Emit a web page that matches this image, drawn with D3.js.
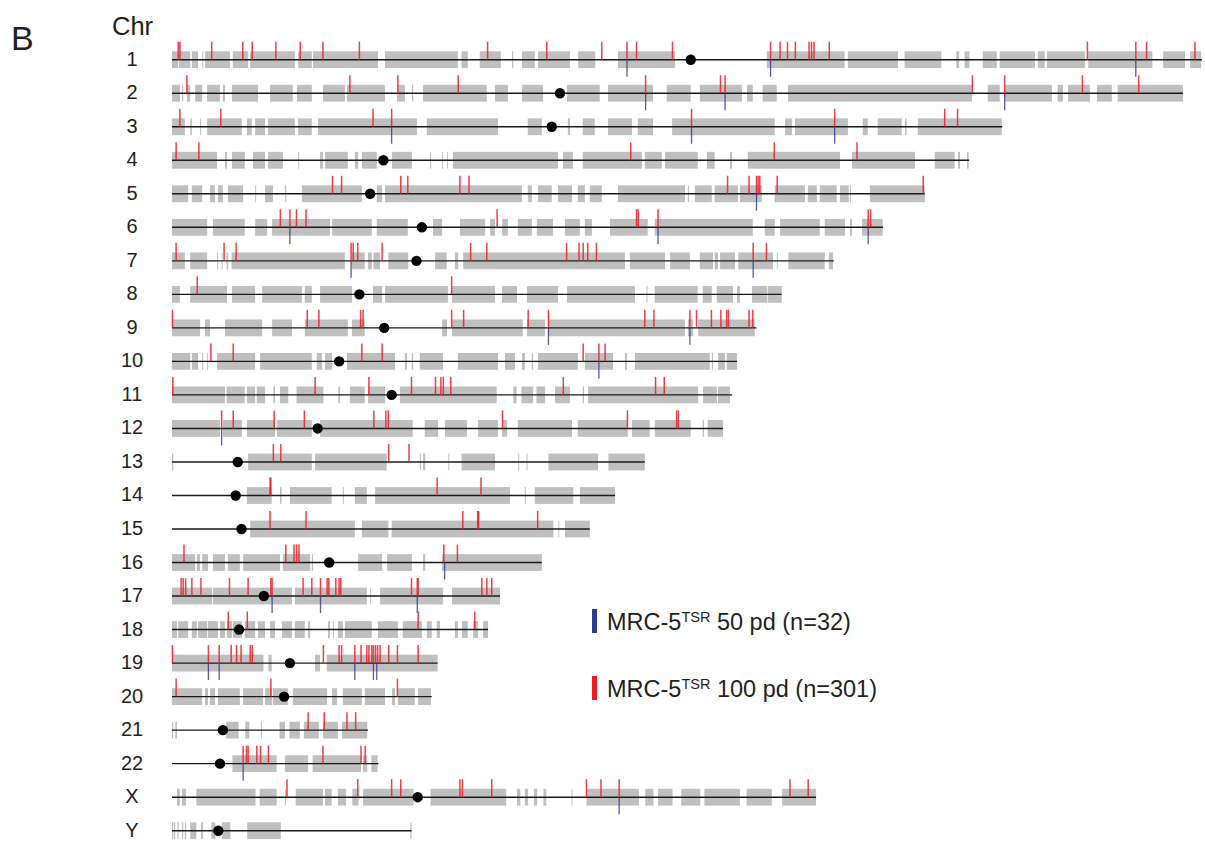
<!DOCTYPE html>
<html>
<head>
<meta charset="utf-8">
<script src="https://cdn.jsdelivr.net/npm/d3@7"></script>
<style>
body { margin: 0; background: #fff; }
svg { display: block; }
text { font-family: "Liberation Sans", Arial, Helvetica, sans-serif; fill: #231f20; }
</style>
</head>
<body>
<div id="chart"></div>
<script>
// chromosome names, lengths (Mb) and centromere positions (Mb)
var chromosomes = ["1","2","3","4","5","6","7","8","9","10","11","12","13","14","15","16","17","18","19","20","21","22","X","Y"];
var lengths = [249.0,244.4,200.7,192.7,182.0,171.9,160.0,147.4,141.3,136.6,135.4,133.2,114.3,107.1,101.0,89.4,79.3,76.4,64.2,62.8,47.4,49.9,155.7,57.9];
var centromeres = [125.4,93.8,91.8,51.1,47.9,60.4,59.1,45.3,51.3,40.4,53.1,35.2,15.9,15.4,16.8,38.0,22.2,16.2,28.5,27.1,12.3,11.6,59.4,11.2];

// gene dense stretches (grey), start/end in Mb
var geneBlocks = [
  [[0,1.5],[1.7,4.4],[4.8,6.3],[7.3,7.5],[8,14.0],[14.7,18.4],[18.9,29.7],[30.5,33.8],[34.1,49.8],[51.5,69.1],[70,71.5],[74.4,79.5],[82.2,82.5],[84.6,87.7],[88.5,96.2],[98.2,102.3],[107.8,121.6],[143.8,162.6],[163.4,175.5],[177.1,186],[189.6,190.3],[191.6,192.8],[196,199.4],[200.1,208.6],[209.3,211],[211.5,220.7],[221.5,237],[239.6,244.9],[246.1,248.8]],
  [[0,1.9],[2.4,2.7],[3.6,4.4],[5.6,7.3],[8.5,11.6],[12.3,12.8],[14.5,20.8],[23.7,29.2],[30.2,33.8],[36.5,41.8],[42.3,51.5],[54.4,56.3],[58,58.3],[60.7,76.1],[78.1,81.2],[84.6,89.7],[95.5,103.4],[105.4,116.3],[119.6,125.4],[127.6,137.8],[139,140.4],[142.8,146.2],[148.9,193.4],[197.2,200.1],[201.3,212.7],[214.1,215.4],[216.6,221.9],[223.6,227.2],[228.6,244.4]],
  [[0,3.1],[4.4,4.8],[6.8,7.0],[8.5,16.9],[18.1,19.3],[20.1,22.5],[23.2,29.7],[30.5,33.8],[35.3,59.2],[61.6,78.8],[86,89.4],[95.7,96.2],[99.3,102.2],[105.4,111.2],[112.6,116.3],[120.9,145.7],[148.2,149.9],[150.6,163.4],[167,168.2],[170.6,176.4],[177.2,177.6],[180.3,200.6]],
  [[0,10.9],[12.8,13.3],[14.5,17.6],[19.6,22.5],[23.2,26.8],[30.5,30.7],[35.8,36.5],[37,42.5],[44.2,45],[45.9,49.5],[53.2,58],[62.4,62.6],[65.3,65.5],[66.5,66.7],[67.9,93.3],[94.5,96.9],[99.3,113.6],[114.3,118.4],[119.2,127.1],[129.3,131.2],[134.9,135.4],[139.2,161.5],[164.4,179.6],[184.4,189.2],[190,190.5],[192.2,192.6]],
  [[0,3.9],[4.8,7.3],[9.2,10.4],[11.1,12.3],[13.5,17.2],[20.1,20.3],[22.5,24.4],[27.3,27.6],[31.4,45.9],[49.5,50.8],[51.5,84.6],[86,87],[88.5,91.8],[93.3,96.7],[98.1,99.8],[101,103.9],[107.8,124],[124.7,125],[126.4,130.5],[131.2,136.8],[137.3,142.6],[145.7,153],[153.7,155.9],[156.6,160.7],[161.5,163.6],[163.9,164.1],[168.7,182]],
  [[0,8.5],[9.9,17.6],[20.1,23],[24.2,38.2],[38.7,48.3],[49.5,57],[63.1,65.3],[69.6,75.7],[76.9,78.1],[79.8,81.2],[83.6,87],[88.2,92.1],[95,98.6],[99.8,101.5],[105.9,115],[116.7,140.4],[143.3,145.7],[147,156.6],[157.8,162.7],[163.9,164.4],[166.8,171.8]],
  [[0,3.1],[4.4,8.5],[10.9,11.1],[12,12.1],[13.2,13.6],[14.4,41.8],[43.4,46.6],[47.4,48.3],[48.7,50.3],[52.3,57.1],[63.6,66.4],[68.4,69.2],[70.4,109.5],[110.7,119.2],[120.4,125.2],[127.6,130.8],[131.2,132],[132.5,136.1],[136.9,145.3],[146.2,146.4],[149,157.8],[158.8,159.8]],
  [[0,1.9],[4.4,13.3],[14.5,20.1],[21.8,31.4],[32.1,33.8],[35.8,43.5],[48.6,50.8],[51.5,66.7],[67.7,78.1],[79.8,83.4],[85.8,93.3],[95.5,111.9],[114.7,114.9],[116.7,127.1],[128.3,130.5],[131.7,135.6],[136.6,137.3],[140.2,143.8],[144,147.4]],
  [[0,6.8],[8,9.2],[12.8,21.8],[24.2,29],[32.1,42.5],[43.5,46.6],[65.3,66.5],[67.7,84.8],[85.8,90.2],[90.9,124],[124.7,126],[127.2,140.9]],
  [[0,4.4],[4.8,6.3],[7.3,7.5],[8.5,8.7],[10.9,20.1],[21.3,33.8],[35,36.3],[37,38.7],[42.3,53.9],[56.3,56.8],[58,58.3],[59.9,65.5],[69.1,78.8],[80.5,82.9],[84.6,85.3],[87,87.3],[88.5,98.1],[99.8,106.6],[109.5,110],[111.9,130],[130.5,130.8],[132,133.7],[134.1,136.6]],
  [[0,12.8],[13.2,17.6],[18.1,20.1],[20.5,22.5],[24.5,24.9],[26.1,28.1],[30.1,36.6],[40.2,40.6],[43,46.6],[47.4,51.5],[55.1,78.5],[82.5,83.3],[84.5,87.3],[88.1,90.2],[92.6,96.2],[99.3,99.6],[100.6,127.2],[128.4,131.7],[132,134.9]],
  [[0,11.6],[12.3,16.9],[18.1,24.9],[25.4,33.8],[35.8,58.2],[61.1,64.3],[66,71.3],[74,78.8],[79.8,81],[83.6,96.7],[98.1,110.2],[111.2,115.5],[116.7,125.4],[128.3,128.6],[129.5,133.2]],
  [[0,0.3],[18.4,33.8],[34.6,51.9],[59.9,60.2],[60.7,61.2],[66.8,67],[70,78.1],[83.7,83.9],[85.7,85.9],[91,103],[105.5,114.3]],
  [[18.1,24.1],[26.1,26.5],[28.5,38.6],[41.3,41.5],[44.2,47.1],[49.1,81.7],[85.3,85.4],[87.7,97],[98.6,107.1]],
  [[18.9,44.2],[45.9,52.3],[53.1,92.2],[93.4,93.5],[95,101]],
  [[0,5.6],[6,6.8],[7.3,8.7],[9.9,12.8],[13.5,16.4],[17.2,26.1],[26.8,33.4],[33.8,34.1],[45,50.8],[52,58],[60.7,61.2],[65.3,89.4]],
  [[0,9.7],[9.9,29],[29.7,47.1],[47.9,48],[50.3,65.5],[67.7,79.3]],
  [[0,1.2],[1.5,3.9],[4.8,6],[6.3,8.5],[8.7,11.1],[11.6,12.8],[13.3,14.5],[14.7,16.9],[17.6,20.1],[20.8,22.5],[23.7,24.9],[26.6,29],[29.7,32.1],[32.9,33.4],[37.7,38.2],[38.9,39],[40.1,41.3],[41.8,48.3],[49.8,54.6],[55.8,60.4],[61.6,62.8],[64,64.8],[68.4,69.1],[70.1,71.5],[72.8,74],[75.2,76.4]],
  [[0,22.1],[23.3,24.1],[34.6,35.8],[37.4,64.2]],
  [[0,7.3],[8,8.7],[9.2,10.4],[11.1,16.4],[17.2,22],[22.5,24.2],[24.4,28],[29.2,37.5],[38.7,39.9],[41.3,45.9],[46.6,51.5],[53.2,53.9],[54.6,58.7],[59.5,62.6]],
  [[0,0.3],[0.8,1.2],[13.1,16.1],[17.7,18.7],[21.5,21.6],[26,27.3],[28.4,30.9],[31.9,35.5],[36.5,40.1],[41.1,47.2]],
  [[14.6,25.3],[27.3,32.9],[34,45.7],[46.2,47.2],[48.2,49.7]],
  [[1.2,1.9],[2.4,3.4],[5.9,20.2],[21.2,25.3],[27.3,27.5],[29.9,36.5],[37,38.6],[40.1,42.1],[43.6,45.1],[46.2,58.4],[62.5,80.8],[83.4,84.2],[85.3,86.1],[87.5,88.3],[89.8,90.5],[96.6,96.7],[100.2,112.9],[114.4,116.4],[117.5,121],[123.1,127.7],[128.7,137.3],[138.9,145],[147.5,155.7]],
  [[0,0.3],[0.5,0.8],[1.3,1.6],[2.4,2.7],[3.1,3.4],[4.4,5.9],[7,7.5],[9.5,10.5],[12.1,14.1],[18.2,26.3],[57.6,57.9]]
];

// MRC-5 TSR 100 pd sites (red, above the line), Mb
var pd100 = [
  [1.5,1.9,9.6,17.1,19.4,25.1,31.0,36.5,45.3,76.3,90.6,103.9,110.0,112.3,121.0,144.7,147.0,148.8,150.7,154.0,154.6,155.2,158.9,221.3,233.0,235.6,247.3],
  [3.6,43.0,54.6,69.2,114.5,132.6,133.7,193.5,201.3,220.1,233.7],
  [1.9,11.8,48.6,53.1,125.6,160.2,186.8,189.9],
  [1.0,6.5,110.9,145.6,165.6],
  [38.8,41.0,55.3,57.0,69.6,71.8,134.3,139.5,141.3,141.7,142.1,146.3,181.6],
  [26.2,28.5,30.1,32.4,78.6,112.3,112.7,117.5,168.3,168.9],
  [1.0,12.6,15.5,43.3,43.8,44.9,50.8,72.2,76.1,95.4,98.4,99.4,100.5,102.6,140.5,143.7],
  [6.1,67.6],
  [0.1,32.7,35.5,45.6,46.2,67.6,70.5,86.1,91.0,114.3,116.5,125.2,126.8,130.4,132.7,134.1,134.5,139.5,140.4],
  [9.4,14.8,45.9,50.8,99.4,103.2,104.7],
  [0.2,34.6,47.6,57.9,63.7,65.0,65.6,67.4,94.6,116.9,119.0],
  [12.0,14.8,24.7,32.0,48.8,51.7,52.3,79.9,110.1,122.0,122.4],
  [24.5,26.3,52.4,57.3],
  [23.7,23.9,64.1,74.7],
  [23.7,32.4,70.3,73.9,74.1,88.4],
  [2.9,27.5,29.5,30.1,30.7,65.7,69.0],
  [2.2,2.7,3.3,4.8,7.0,13.9,18.4,23.9,24.2,31.7,33.8,35.9,37.5,37.9,39.6,40.4,40.8,57.9,59.3,59.5,74.9,76.1,77.3],
  [13.6,18.2,59.5,73.2],
  [0.1,8.8,11.4,14.3,15.6,16.7,18.9,19.4,36.6,40.4,41.0,44.2,45.7,47.1,47.6,48.3,48.7,49.2,49.7,50.3,52.4,54.5,59.5],
  [1.0,23.9,54.5],
  [32.9,36.8,42.3,44.4],
  [17.2,18.0,18.4,20.5,21.4,23.3,36.5,45.7,46.7],
  [27.8,44.9,53.1,55.3,69.6,70.2,77.3,100.2,103.7,108.1,149.4,153.8],
  []
];

// MRC-5 TSR 50 pd sites (blue, below the line), Mb
var pd50 = [
  [110.0,144.7,233.0],
  [114.5,133.7,201.3],
  [53.1,125.6,160.2],
  [],
  [141.3],
  [28.5,117.5,168.3],
  [43.3,140.5],
  [],
  [91.0,125.2],
  [103.2],
  [],
  [12.0],
  [],[],[],
  [65.9],
  [24.2,35.9,59.3],
  [],
  [8.8,11.4,44.2,48.7,49.5],
  [],[],
  [17.2],
  [108.1],
  []
];

var legendItems = [
  {label: " 50 pd (n=32)", color: "#2b3990"},
  {label: " 100 pd (n=301)", color: "#ed1c24"}
];

var svg = d3.select("#chart").append("svg")
    .attr("width", 1205)
    .attr("height", 841);

var x = d3.scaleLinear().domain([0, 249]).range([172, 1202]);
var y = d3.scalePoint().domain(chromosomes).range([59.7, 830.7]);

svg.append("text")
    .attr("x", 11).attr("y", 50)
    .attr("font-size", 34)
    .text("B");

svg.append("text")
    .attr("x", 112).attr("y", 35)
    .attr("font-size", 25.5)
    .text("Chr");

var rows = svg.selectAll("g.chr")
    .data(chromosomes)
    .enter()
    .append("g")
    .attr("class", "chr")
    .attr("transform", function(d){ return "translate(0," + y(d) + ")"; });

rows.append("text")
    .attr("x", 132)
    .attr("y", 6)
    .attr("text-anchor", "middle")
    .attr("font-size", 20)
    .text(function(d){ return d; });

rows.each(function(name, i){
    var g = d3.select(this);

    // grey gene blocks
    g.selectAll("rect.gene")
	.data(geneBlocks[i])
	.enter()
	.append("rect")
	.attr("class", "gene")
	.attr("x", function(d){ return x(d[0]); })
	.attr("width", function(d){ return Math.max(1, x(d[1]) - x(d[0])); })
	.attr("y", -8.4)
	.attr("height", 16.8)
	.attr("fill", "#bfbfbf");

    // chromosome line
    g.append("line")
	.attr("x1", x(0)).attr("x2", x(lengths[i]))
	.attr("y1", 0).attr("y2", 0)
	.attr("stroke", "#1a1a1a")
	.attr("stroke-width", 1.4);

    // 100 pd, red above
    g.selectAll("line.red")
	.data(pd100[i])
	.enter()
	.append("line")
	.attr("class", "red")
	.attr("x1", function(d){ return x(d); })
	.attr("x2", function(d){ return x(d); })
	.attr("y1", -18).attr("y2", 0)
	.attr("stroke", "#ed1c24")
	.attr("stroke-opacity", 0.85)
	.attr("stroke-width", 1.5);

    // 50 pd, blue below
    g.selectAll("line.blue")
	.data(pd50[i])
	.enter()
	.append("line")
	.attr("class", "blue")
	.attr("x1", function(d){ return x(d); })
	.attr("x2", function(d){ return x(d); })
	.attr("y1", 0).attr("y2", 17)
	.attr("stroke", "#2e3192")
	.attr("stroke-opacity", 0.8)
	.attr("stroke-width", 1.3);

    // centromere
    g.append("circle")
	.attr("cx", x(centromeres[i]))
	.attr("cy", 0)
	.attr("r", 5.2)
	.attr("fill", "#000");
});

// legend
var legend = svg.selectAll("g.legend")
    .data(legendItems)
    .enter()
    .append("g")
    .attr("class", "legend")
    .attr("transform", function(d, i){ return "translate(592," + (609 + i * 67) + ")"; });

legend.append("rect")
    .attr("width", 5).attr("height", 24)
    .attr("fill", function(d){ return d.color; });

var lt = legend.append("text")
    .attr("x", 15).attr("y", 21)
    .attr("font-size", 23.5);
lt.append("tspan").text("MRC-5");
lt.append("tspan").attr("font-size", 14.5).attr("dy", -8).text("TSR");
lt.append("tspan").attr("dy", 8).text(function(d){ return d.label; });
</script>
</body>
</html>
